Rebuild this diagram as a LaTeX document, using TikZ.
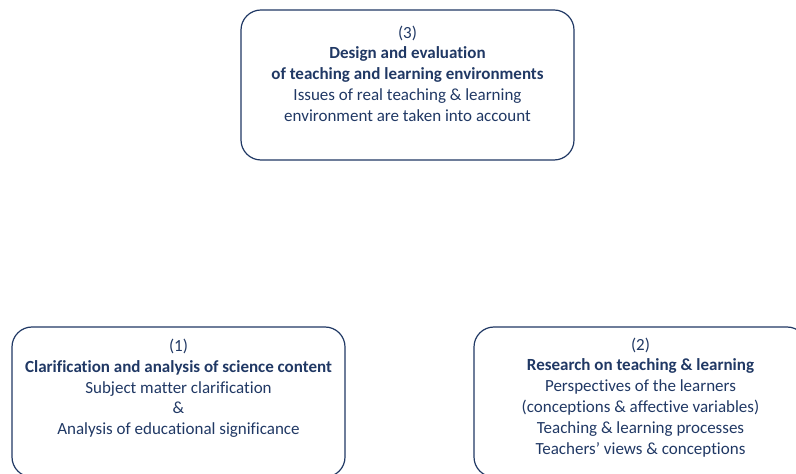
\documentclass[tikz,border=0pt]{standalone}
\usepackage{fontspec}
\setmainfont{Carlito}[Ligatures=NoCommon]
\usetikzlibrary{positioning}
\definecolor{navy}{HTML}{203864}
\begin{document}
\begin{tikzpicture}[
x=1bp, y=-1bp,
stagebox/.style={
draw=navy,
line width=1.2bp,
rounded corners=20bp,
minimum width=333bp,
minimum height=150bp,
inner sep=0 pt,
},
stagetext/.style={
align=center,
text=navy,
inner sep=0 pt,
font=\fontsize{17bp}{20.8bp}\selectfont,
}
]

\useasboundingbox (0,0) rectangle (796,474);
\clip (0,0) rectangle (796,474);

% stage boxes
\node [stagebox] at (407.5,85) (b3) {};
\node [stagebox] at (178.5,402) (b1) {};
\node [stagebox] at (640.5,402) (b2) {};

% stage texts
\node [stagetext, below=16bp of b3.north] (t3)
{(3)\\
\textbf{Design and evaluation}\\
\textbf{of teaching and learning environments}\\
Issues of real teaching \& learning\\
environment are taken into account};

\node [stagetext, below=12.5bp of b1.north] (t1)
{(1)\\
\textbf{Clarification and analysis of science content}\\
Subject matter clarification\\
\&\\
Analysis of educational significance};

\node [stagetext, below=11bp of b2.north] (t2)
{(2)\\
\textbf{Research on teaching \& learning}\\
Perspectives of the learners\\
(conceptions \& affective variables)\\
Teaching \& learning processes\\
Teachers’ views \& conceptions};

\end{tikzpicture}
\end{document}
